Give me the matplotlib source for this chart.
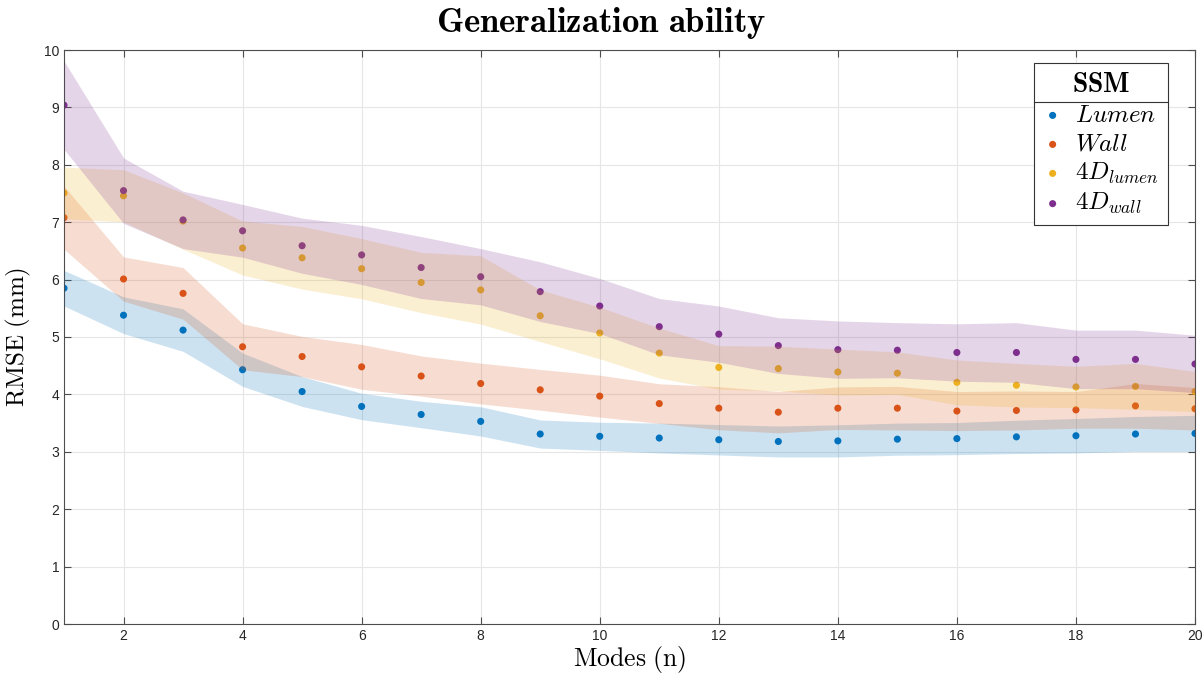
import matplotlib
matplotlib.use("Agg")
import matplotlib.pyplot as plt
from matplotlib.lines import Line2D
import numpy as np

plt.rcParams['mathtext.fontset'] = 'cm'
plt.rcParams['font.family'] = ['Liberation Sans', 'DejaVu Sans']

# Number of modes retained in the shape model
modes = np.arange(1, 21)

# RMSE mean and standard deviation (mm) per model
lumen_mean = [5.85, 5.38, 5.12, 4.43, 4.05, 3.79, 3.65, 3.53, 3.31, 3.27,
              3.24, 3.21, 3.18, 3.19, 3.22, 3.23, 3.26, 3.28, 3.31, 3.32]
lumen_std = [0.31, 0.32, 0.37, 0.29, 0.26, 0.23, 0.23, 0.255, 0.245, 0.245,
             0.26, 0.265, 0.27, 0.28, 0.28, 0.28, 0.29, 0.30, 0.305, 0.315]

wall_mean = [7.08, 6.01, 5.76, 4.83, 4.66, 4.48, 4.32, 4.19, 4.08, 3.97,
             3.84, 3.76, 3.69, 3.76, 3.76, 3.71, 3.72, 3.73, 3.80, 3.75]
wall_std = [0.55, 0.385, 0.45, 0.40, 0.35, 0.39, 0.35, 0.355, 0.355, 0.365,
            0.345, 0.375, 0.36, 0.37, 0.38, 0.34, 0.34, 0.32, 0.39, 0.37]

lumen4d_mean = [7.51, 7.46, 7.02, 6.55, 6.38, 6.19, 5.95, 5.82, 5.37, 5.07,
                4.72, 4.47, 4.45, 4.39, 4.37, 4.21, 4.16, 4.13, 4.14, 4.05]
lumen4d_std = [0.45, 0.455, 0.49, 0.47, 0.545, 0.525, 0.525, 0.595, 0.45, 0.45,
               0.435, 0.38, 0.39, 0.40, 0.37, 0.39, 0.38, 0.36, 0.40, 0.35]

wall4d_mean = [9.04, 7.55, 7.04, 6.85, 6.59, 6.43, 6.21, 6.05, 5.79, 5.54,
               5.18, 5.05, 4.85, 4.78, 4.77, 4.73, 4.73, 4.61, 4.61, 4.53]
wall4d_std = [0.77, 0.57, 0.50, 0.46, 0.48, 0.515, 0.54, 0.49, 0.52, 0.48,
              0.49, 0.49, 0.485, 0.50, 0.48, 0.50, 0.52, 0.51, 0.51, 0.50]

labels = [r'$Lumen$', r'$Wall$', r'$4D_{lumen}$', r'$4D_{wall}$']
colors = ['#0072BD', '#D95319', '#EDB120', '#7E2F8E']

series = [(lumen_mean, lumen_std), (wall_mean, wall_std),
          (lumen4d_mean, lumen4d_std), (wall4d_mean, wall4d_std)]

fig = plt.figure(figsize=(12.03, 6.75), dpi=100)
ax = fig.add_axes([64 / 1203, 51 / 675, 1131 / 1203, 574 / 675])

handles = []
for (m, s), c, lab in zip(series, colors, labels):
    h = ax.scatter(modes, m, s=26, color=c, edgecolors='none', zorder=2, label=lab)
    handles.append(h)
for (m, s), c in zip(series, colors):
    m = np.asarray(m)
    s = np.asarray(s)
    ax.fill_between(modes, m - s, m + s, color=c, alpha=0.2, linewidth=0, zorder=3)

ax.set_xlim(1, 20)
ax.set_ylim(0, 10)
ax.set_xticks(np.arange(2, 21, 2))
ax.set_yticks(np.arange(0, 11, 1))
ax.grid(True, color='#e6e6e6', linewidth=0.8, zorder=0)
ax.set_axisbelow(True)
ax.tick_params(direction='in', top=True, right=True, length=5, width=0.8,
               colors='#4d4d4d', labelsize=10, labelcolor='#262626')
for sp in ax.spines.values():
    sp.set_color('#4d4d4d')
    sp.set_linewidth(0.8)

fig.text(0.5, (675 - 32) / 675, r'$\mathbf{Generalization\ ability}$',
         fontsize=25, ha='center', va='baseline')
ax.set_xlabel(r'$\mathrm{Modes\ (n)}$', fontsize=18.5, labelpad=1)
ax.set_ylabel(r'$\mathrm{RMSE\ (mm)}$', fontsize=18, labelpad=8)

leg = ax.legend(handles=handles, title=r'$\mathbf{SSM}$', loc='upper right',
                bbox_to_anchor=(0.976, 0.977), borderaxespad=0, fontsize=18,
                title_fontsize=20, frameon=True, fancybox=False,
                edgecolor='#333333', framealpha=1, handletextpad=0.5,
                labelspacing=0.2, borderpad=0.35, scatterpoints=1,
                handlelength=0.8)
leg.get_frame().set_linewidth(0.8)

# Separator line between the legend title and its entries
fig.canvas.draw()
renderer = fig.canvas.get_renderer()
fb = leg.get_frame().get_window_extent(renderer)
tb = leg.get_title().get_window_extent(renderer)
y_sep = tb.y0 - 4
inv = fig.transFigure.inverted()
(x0, y0) = inv.transform((fb.x0, y_sep))
(x1, _) = inv.transform((fb.x1, y_sep))
fig.add_artist(Line2D([x0, x1], [y0, y0], color='#333333', linewidth=0.8,
                      transform=fig.transFigure, zorder=10))

fig.savefig('out.png', dpi=100)
